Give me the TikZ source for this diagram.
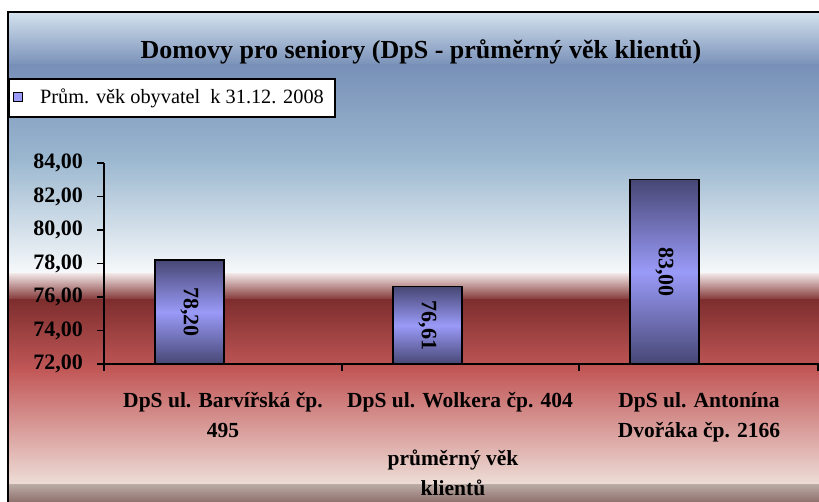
\documentclass[tikz,border=0pt]{standalone}
\usepackage{fontspec}
\setmainfont{Liberation Serif}
\usetikzlibrary{positioning}

\definecolor{skyTop}{HTML}{D4E2EE}
\definecolor{skyDeep}{HTML}{7890B8}
\definecolor{skyMid}{HTML}{9CB8D0}
\definecolor{skyLow}{HTML}{F8FAFB}
\definecolor{redTop}{HTML}{EEE2E2}
\definecolor{redDeep}{HTML}{7E2E2E}
\definecolor{redMid}{HTML}{C25858}
\definecolor{redLow}{HTML}{EEDED8}
\definecolor{floorTop}{HTML}{BCACA6}
\definecolor{floorLow}{HTML}{8E706C}
\definecolor{barDark}{HTML}{474775}
\definecolor{barLight}{HTML}{9A9AF8}

\begin{document}
\begin{tikzpicture}[x=1pt, y=-1pt,
  bar/.style={draw=black, line width=1.3pt, top color=barDark, bottom color=barDark, middle color=barLight},
  barlabel/.style={rotate=-90, inner sep=0pt, font=\fontsize{22}{24}\selectfont\bfseries},
  ticklab/.style={anchor=east, inner sep=0pt, font=\fontsize{22}{24}\selectfont\bfseries},
  catlab/.style={align=center, anchor=base, inner sep=0pt, font=\fontsize{21.5}{30}\selectfont\bfseries},
  axisline/.style={line width=1.1pt}]
\useasboundingbox (0,0) rectangle (819,502);
\fill[white] (0,0) rectangle (819,502);
% Background bands
\shade[top color=skyTop, bottom color=skyDeep] (8,12) rectangle (819,66);
\shade[top color=skyDeep, bottom color=skyMid] (8,65) rectangle (819,161);
\shade[top color=skyMid, bottom color=skyLow] (8,160) rectangle (819,275);
\shade[top color=redTop, bottom color=redDeep] (8,274) rectangle (819,301);
\shade[top color=redDeep, bottom color=redMid] (8,300) rectangle (819,371);
\shade[top color=redMid, bottom color=redLow] (8,370) rectangle (819,485);
\shade[top color=floorTop, bottom color=floorLow] (8,484) rectangle (819,502);
% Frame
\draw[line width=2pt] (8,502) -- (8,12) -- (819,12);
% Title
\node[font=\fontsize{26}{30}\selectfont\bfseries] (title) at (421,52) {Domovy pro seniory (DpS - průměrný věk klientů)};
% Legend
\draw[line width=1.3pt, fill=white] (9,79) rectangle (335,117);
\node[draw=black, fill=barLight, minimum size=8.5pt, inner sep=0pt, line width=0.8pt] (legsq) at (18,97) {};
\node[anchor=west, inner sep=0pt, font=\fontsize{20.3}{22}\selectfont] (legtext) at (40,98) {Prům. věk obyvatel\ \ k 31.12. 2008};
% Plot area
\begin{scope}[shift={(104,364)}, y=16.75pt]
  \foreach \xa/\v/\txt [count=\i] in {51/6.20/{78,20}, 289/4.61/{76,61}, 526/11.00/{83,00}} {
    \draw[bar] (\xa,0) rectangle ++(69,\v);
    \node[barlabel] (val\i) at (\xa+34.5,\v/2) {\txt};
  }
  \draw[axisline] (0,-0.43) -- (0,12);
  \draw[axisline] (0,0) -- (716,0);
  \foreach \v in {72,74,...,84} {
    \draw[axisline] (-7,\v-72) -- (0,\v-72);
    \node[ticklab] (tick\v) at (-21,\v-72) {\v,00};
  }
  \foreach \xt in {238,475,714}
    \draw[axisline] (\xt,0) -- (\xt,-0.43);
\end{scope}
% Category labels (anchor on last line)
\node[catlab] (cat1) at (223,437) {DpS ul. Barvířská čp.\\495};
\node[catlab] (cat2) at (460,407) {DpS ul. Wolkera čp. 404};
\node[catlab] (cat3) at (699,437) {DpS ul. Antonína\\Dvořáka čp. 2166};
\node[catlab] (axtitle) at (453,495) {průměrný věk\\klientů};
\end{tikzpicture}
\end{document}
